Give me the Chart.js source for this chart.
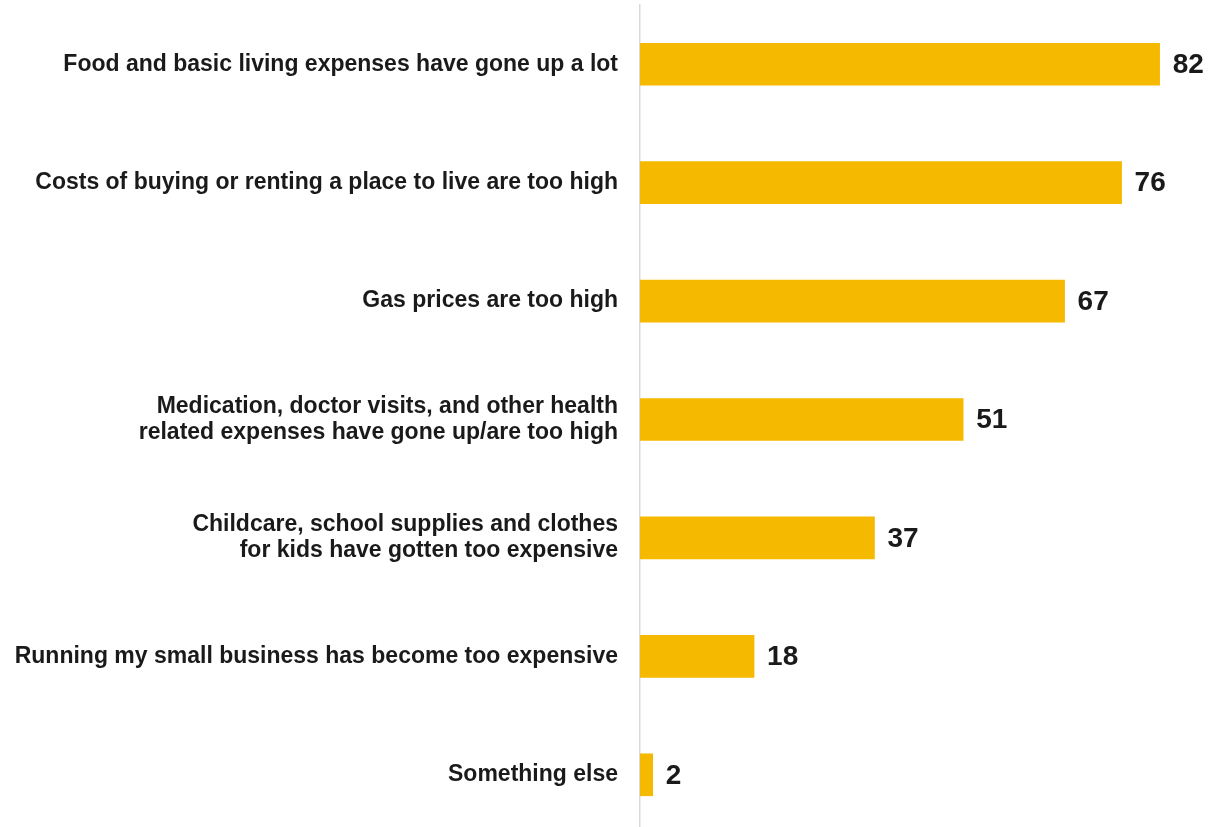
<!DOCTYPE html>
<html>
<head>
<meta charset="utf-8">
<script src="https://cdn.jsdelivr.net/npm/chart.js@4/dist/chart.umd.min.js"></script>
<style>
  html, body { margin: 0; padding: 0; background: #fff; overflow: hidden; }
  #wrap { width: 1224px; height: 834px; position: relative; }
</style>
</head>
<body>
<div id="wrap"><canvas id="chart"></canvas></div>
<script>
// category labels (multi-line ones split into arrays)
const categories = [
  "Food and basic living expenses have gone up a lot",
  "Costs of buying or renting a place to live are too high",
  "Gas prices are too high",
  ["Medication, doctor visits, and other health", "related expenses have gone up/are too high"],
  ["Childcare, school supplies and clothes", "for kids have gotten too expensive"],
  "Running my small business has become too expensive",
  "Something else"
];
const values = [82, 76, 67, 51, 37, 18, 2];

const barColor = "#F5BA00";
const textColor = "#1a1a1a";
const fontFamily = "'Liberation Sans', Arial, sans-serif";

// draws the value next to the end of each bar
const valueLabels = {
  id: "valueLabels",
  afterDatasetsDraw(chart) {
    const ctx = chart.ctx;
    const meta = chart.getDatasetMeta(0);
    ctx.save();
    ctx.font = "bold 28px " + fontFamily;
    ctx.fillStyle = textColor;
    ctx.textAlign = "left";
    ctx.textBaseline = "middle";
    meta.data.forEach(function (bar, i) {
      ctx.fillText(String(values[i]), bar.x + 13, bar.y + 1);
    });
    ctx.restore();
  }
};

new Chart(document.getElementById("chart"), {
  type: "bar",
  data: {
    labels: categories,
    datasets: [{
      data: values,
      backgroundColor: barColor,
      borderWidth: 0,
      barThickness: 42
    }]
  },
  options: {
    indexAxis: "y",
    responsive: true,
    maintainAspectRatio: false,
    animation: false,
    layout: { padding: { top: 5, right: 1, left: 0, bottom: 0 } },
    plugins: {
      legend: { display: false },
      tooltip: { enabled: false }
    },
    scales: {
      x: {
        display: false,
        min: 0,
        max: 92
      },
      y: {
        grid: { display: false, drawTicks: false },
        border: { display: true, color: "#d9d9d9", width: 1.5 },
        afterFit(scale) {
          scale.width = 640;
          scale.paddingTop = 0;
          scale.paddingBottom = 0;
        },
        ticks: {
          color: textColor,
          padding: 22,
          font: { family: fontFamily, size: 23, weight: "bold", lineHeight: 1.15 }
        }
      }
    }
  },
  plugins: [valueLabels]
});
</script>
</body>
</html>
